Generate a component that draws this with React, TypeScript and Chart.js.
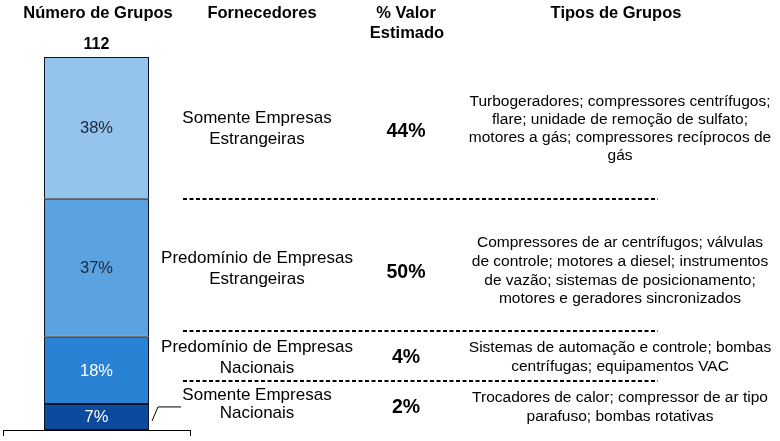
import React, { useEffect, useRef } from "react";
import { Chart, registerables } from "chart.js";

Chart.register(...registerables);

// ---- data ----
const categories = ["Número de Grupos"];
const totalGroups = 112;
// bottom -> top
const fornecedores = [
  ["Somente Empresas", "Nacionais"],
  ["Predomínio de Empresas", "Nacionais"],
  ["Predomínio de Empresas", "Estrangeiras"],
  ["Somente Empresas", "Estrangeiras"],
];
const groupShares = [7, 18, 37, 38];
const valorEstimado = ["2%", "4%", "50%", "44%"];
const tiposDeGrupos = [
  ["Trocadores de calor; compressor de ar tipo", "parafuso; bombas rotativas"],
  ["Sistemas de automação e controle; bombas", "centrífugas; equipamentos VAC"],
  [
    "Compressores de ar centrífugos; válvulas",
    "de controle; motores a diesel; instrumentos",
    "de vazão; sistemas de posicionamento;",
    "motores e geradores sincronizados",
  ],
  [
    "Turbogeradores; compressores centrífugos;",
    "flare; unidade de remoção de sulfato;",
    "motores a gás; compressores recíprocos de",
    "gás",
  ],
];
const headers = {
  grupos: ["Número de Grupos"],
  fornecedores: ["Fornecedores"],
  valor: ["% Valor", "Estimado"],
  tipos: ["Tipos de Grupos"],
};

// ---- styles / layout ----
const FONT = '"Liberation Sans", Arial, sans-serif';
const segColors = ["#0B4A9C", "#2A82D5", "#5BA2E0", "#94C3EC"];
const segLabelColors = ["#ffffff", "#ffffff", "#1b2838", "#1b2838"];
const rowFornY = [[395, 413], [347, 368], [258, 279], [118, 139]];
const rowValY = [408, 358, 273, 132];
const rowTiposY = [[398, 417], [348, 367], [243, 262, 281, 299], [102, 120, 138, 156]];
const dashY = [199, 331, 381];

const textPlugin = {
  id: "texts",
  afterDraw(chart: any) {
    const ctx = chart.ctx as CanvasRenderingContext2D;
    ctx.save();
    ctx.textAlign = "center";
    ctx.textBaseline = "middle";

    // headers
    ctx.fillStyle = "#000";
    ctx.font = `bold 16.5px ${FONT}`;
    ctx.fillText(headers.grupos[0], 98, 13);
    ctx.fillText(headers.fornecedores[0], 262, 13);
    ctx.fillText(headers.valor[0], 406, 13);
    ctx.fillText(headers.valor[1], 407, 33);
    ctx.fillText(headers.tipos[0], 616, 13);

    // segment labels
    let topY = Infinity;
    let barRight = 0;
    chart.data.datasets.forEach((ds: any, i: number) => {
      const meta = chart.getDatasetMeta(i);
      const el = meta.data[0];
      if (!el) return;
      const props = el.getProps(["x", "y", "base", "width"], true);
      const cy = (props.y + props.base) / 2;
      topY = Math.min(topY, props.y, props.base);
      barRight = props.x + props.width / 2;
      ctx.font = `16.5px ${FONT}`;
      ctx.fillStyle = segLabelColors[i];
      ctx.fillText(ds.data[0] + "%", props.x, cy + 1);
      if (i === 0) {
        // leader line
        ctx.strokeStyle = "#000";
        ctx.lineWidth = 1;
        ctx.beginPath();
        ctx.moveTo(barRight + 3, cy + 4);
        ctx.lineTo(barRight + 9, cy - 10);
        ctx.lineTo(barRight + 32, cy - 10);
        ctx.stroke();
      }
    });

    // total label
    const m0 = chart.getDatasetMeta(0).data[0];
    ctx.fillStyle = "#000";
    ctx.font = `bold 16px ${FONT}`;
    ctx.fillText(String(totalGroups), m0 ? m0.x : 96, topY - 12);

    // columns
    ctx.fillStyle = "#000";
    fornecedores.forEach((lines, i) => {
      ctx.font = `17px ${FONT}`;
      lines.forEach((l, j) => ctx.fillText(l, 257, rowFornY[i][j]));
      ctx.font = `bold 19.5px ${FONT}`;
      ctx.fillText(valorEstimado[i], 406, rowValY[i]);
      ctx.font = `15.5px ${FONT}`;
      tiposDeGrupos[i].forEach((l, j) => ctx.fillText(l, 620, rowTiposY[i][j]));
    });

    // dashed separators
    ctx.strokeStyle = "#000";
    ctx.lineWidth = 2;
    ctx.setLineDash([4, 2.5]);
    dashY.forEach((y) => {
      ctx.beginPath();
      ctx.moveTo(183, y);
      ctx.lineTo(658, y);
      ctx.stroke();
    });
    ctx.restore();
  },
};

export default function App() {
  const ref = useRef<HTMLCanvasElement | null>(null);
  useEffect(() => {
    if (!ref.current) return;
    const chart = new Chart(ref.current, {
      type: "bar",
      data: {
        labels: categories,
        datasets: groupShares.map((v, i) => ({
          label: fornecedores[i].join(" "),
          data: [v],
          backgroundColor: segColors[i],
          borderColor: "#0a1628",
          borderWidth: 1,
          borderSkipped: false,
          categoryPercentage: 1,
          barPercentage: 105 / 187,
        })),
      },
      options: {
        animation: false,
        responsive: false,
        devicePixelRatio: 1,
        layout: { padding: { left: 3, right: 590, top: 57, bottom: 5 } },
        plugins: { legend: { display: false }, tooltip: { enabled: false } },
        scales: {
          x: {
            stacked: true,
            grid: {
              display: true,
              drawOnChartArea: false,
              drawTicks: true,
              tickLength: 6,
              color: "#000",
              offset: true,
            },
            border: { display: true, color: "#000", width: 1 },
            ticks: { display: false },
          },
          y: { stacked: true, display: false, min: 0, max: 100 },
        },
      },
      plugins: [textPlugin],
    });
    return () => chart.destroy();
  }, []);
  return (
    <div style={{ position: "absolute", left: 0, top: 0, width: 780, height: 441, background: "#fff" }}>
      <canvas ref={ref} width={780} height={441} style={{ display: "block" }} />
    </div>
  );
}
